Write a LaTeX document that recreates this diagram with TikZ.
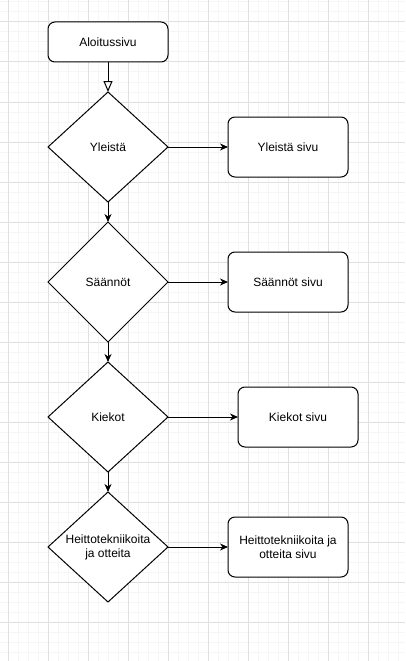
\documentclass[tikz,border=0pt]{standalone}
\usepackage{fontspec}
\setmainfont{Liberation Sans}
\usetikzlibrary{shapes.geometric,arrows.meta}
\definecolor{gridminor}{RGB}{246,246,246}
\definecolor{gridmajor}{RGB}{224,224,224}
\tikzset{
  pagebox/.style={draw=black, line width=1pt, rounded corners=7pt, fill=white,
    minimum width=120pt, minimum height=60pt, inner sep=0pt, outer sep=0pt,
    align=center, font=\fontsize{12}{14}\selectfont},
  startbox/.style={pagebox, minimum height=40pt},
  choice/.style={draw=black, line width=1pt, diamond, fill=white,
    minimum width=120pt, minimum height=110pt, inner sep=0pt, outer sep=0pt},
  choicetext/.style={label={[align=center, font=\fontsize{12}{14}\selectfont]center:#1}},
  flow/.style={draw=black, line width=1pt, -{Stealth[length=8pt,width=7pt,inset=2.5pt]}},
  firstflow/.style={draw=black, line width=1pt, -{Triangle[open,length=11pt,width=9pt,fill=white]}}
}
\begin{document}
\begin{tikzpicture}[x=1pt,y=-1pt]
\useasboundingbox (0,0) rectangle (405,661);
\fill[white] (0,0) rectangle (405,661);
% grid
\begin{scope}
\clip (0,0) rectangle (405,661);
\foreach \gx in {-2,8,...,408} {\draw[gridminor, line width=1pt] (\gx,0) -- (\gx,661);}
\foreach \gy in {2,12,...,662} {\draw[gridminor, line width=1pt] (0,\gy) -- (405,\gy);}
\foreach \gx in {8,48,...,408} {\draw[gridmajor, line width=1pt] (\gx,0) -- (\gx,661);}
\foreach \gy in {22,62,...,662} {\draw[gridmajor, line width=1pt] (0,\gy) -- (405,\gy);}
\end{scope}
% nodes
\node[startbox] (start) at (108,42) {Aloitussivu};
\node[choice, choicetext={Yleistä}] (d1) at (108,147) {};
\node[choice, minimum height=120pt, choicetext={Säännöt}] (d2) at (108,282) {};
\node[choice, choicetext={Kiekot}] (d3) at (108,417) {};
\node[choice, choicetext={Heittotekniikoita\\ja otteita}] (d4) at (108,547) {};
\node[pagebox] (b1) at (288,147) {Yleistä sivu};
\node[pagebox] (b2) at (288,282) {Säännöt sivu};
\node[pagebox] (b3) at (298,417) {Kiekot sivu};
\node[pagebox] (b4) at (288,547) {Heittotekniikoita ja\\otteita sivu};
% connectors
\draw[firstflow] (start.south) -- (d1.north);
\draw[flow] (d1.south) -- (d2.north);
\draw[flow] (d2.south) -- (d3.north);
\draw[flow] (d3.south) -- (d4.north);
\draw[flow] (d1.east) -- (b1.west);
\draw[flow] (d2.east) -- (b2.west);
\draw[flow] (d3.east) -- (b3.west);
\draw[flow] (d4.east) -- (b4.west);
\end{tikzpicture}
\end{document}
